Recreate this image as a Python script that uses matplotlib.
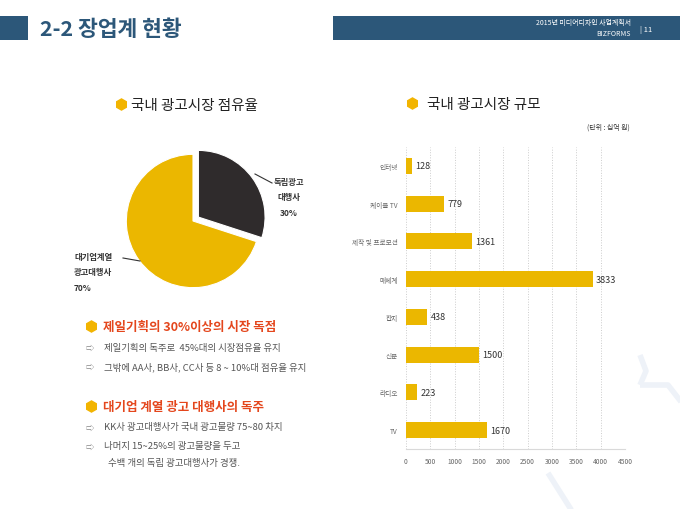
import matplotlib.pyplot as plt
from matplotlib.lines import Line2D
from matplotlib.patches import Rectangle

plt.rcParams['font.family'] = ['Noto Sans CJK KR', 'DejaVu Sans']

# pie data
share_labels = ['독립광고\n대행사\n30%', '대기업계열\n광고대행사\n70%']
share_values = [30, 70]

# bar data
categories = ['인터넷', '케이블 TV', '제작 및 프로모션', '매체계', '잡지', '신문', '라디오', 'TV']
market_size = [128, 779, 1361, 3833, 438, 1500, 223, 1670]
x_ticks = [0, 500, 1000, 1500, 2000, 2500, 3000, 3500, 4000, 4500]

# text block
head1 = '제일기획의 30%이상의 시장 독점'
lines1 = ['제일기획의 독주로  45%대의 시장점유율 유지',
          '그밖에 AA사, BB사, CC사 등 8 ~ 10%대 점유율 유지']
head2 = '대기업 계열 광고 대행사의 독주'
lines2 = ['KK사 광고대행사가 국내 광고물량 75~80 차지',
          '나머지 15~25%의 광고물량을 두고']
tail2 = '수백 개의 독립 광고대행사가 경쟁.'

W, H = 680, 510
BLUE = '#2c5779'
YELLOW = '#ebb700'
DARK = '#2f2b2c'
RED = '#e4461c'
GRAY = '#555555'


def fx(x):
    return x / W


def fy(y):
    return 1 - y / H


fig = plt.figure(figsize=(6.8, 5.1), dpi=100)
fig.patch.set_facecolor('white')

# faint background strokes
for xs, ys in [([640, 646, 640], [356, 372, 386]),
               ([640, 668, 682], [386, 386, 404]),
               ([548, 572], [474, 512])]:
    fig.add_artist(Line2D([fx(v) for v in xs], [fy(v) for v in ys],
                          color='#eef2f8', lw=4, solid_capstyle='butt'))

# header
fig.add_artist(Rectangle((fx(0), fy(41)), fx(28), 24 / H, color=BLUE, lw=0))
fig.add_artist(Rectangle((fx(333), fy(41)), fx(347), 24 / H, color=BLUE, lw=0))
fig.text(fx(40), fy(29), '2-2 장업계 현황', fontsize=15.5, fontweight='bold',
         color=BLUE, va='center')
fig.text(fx(631), fy(23), '2015년 미디어디자인 사업계획서', fontsize=5,
         color='white', ha='right', va='center')
fig.text(fx(631), fy(34), 'BIZFORMS', fontsize=5, color='white',
         ha='right', va='center')
fig.text(fx(640), fy(30), '| 11', fontsize=5.5, color='white', va='center')

# section titles
for bx, tx, ty, txt in [(121, 131, 106, '국내 광고시장 점유율'),
                        (412, 427, 105, '국내 광고시장 규모')]:
    fig.add_artist(Line2D([fx(bx)], [fy(ty - 1)], marker='h', ms=8,
                          color='#f2b400', lw=0))
    fig.text(fx(tx), fy(ty), txt, fontsize=10.5, fontweight='medium',
             color='#222222', va='center')

# pie
ax_p = fig.add_axes([fx(113), fy(302), 160 / W, 160 / H])
ax_p.pie(share_values, colors=[DARK, YELLOW], startangle=90,
         counterclock=False, explode=[0.1, 0],
         wedgeprops=dict(edgecolor='white', linewidth=0.8))
ax_p.set_xlim(-1.2, 1.2)
ax_p.set_ylim(-1.2, 1.2)
ax_p.set_aspect('equal')
ax_p.axis('off')

fig.add_artist(Line2D([fx(255), fx(272)], [fy(175), fy(184)], color='#333333', lw=0.8))
fig.add_artist(Line2D([fx(123), fx(140)], [fy(259), fy(262)], color='#333333', lw=0.8))
fig.text(fx(289), fy(198), share_labels[0], fontsize=6, fontweight='bold',
         color='#333333', ha='center', va='center', linespacing=1.9)
fig.text(fx(74), fy(273), share_labels[1], fontsize=6, fontweight='bold',
         color='#333333', ha='left', va='center', linespacing=1.9)

# bar chart
fig.text(fx(630), fy(128), '(단위 : 십억 원)', fontsize=5, color='#333333',
         ha='right', va='center')
ax_b = fig.add_axes([fx(406), fy(450), 219 / W, 302 / H])
ypos = list(range(len(categories)))
ax_b.barh(ypos, market_size, height=0.42, color=YELLOW)
for yv, v in zip(ypos, market_size):
    ax_b.text(v + 70, yv, str(v), fontsize=6.5, color='#333333', va='center')
ax_b.set_ylim(7.5, -0.5)
ax_b.set_xlim(0, 4500)
ax_b.set_yticks(ypos)
ax_b.set_yticklabels(categories, fontsize=4.8, color='#666666')
ax_b.set_xticks(x_ticks)
ax_b.set_xticklabels([str(t) for t in x_ticks], fontsize=4.8, color='#666666')
ax_b.tick_params(length=0, pad=6)
ax_b.grid(axis='x', linestyle=':', color='#cccccc', lw=0.7)
ax_b.set_axisbelow(True)
for s in ['top', 'right', 'left']:
    ax_b.spines[s].set_visible(False)
ax_b.spines['bottom'].set_color('#d9d9d9')

# text block
for by, head, lines in [(327, head1, lines1), (407, head2, lines2)]:
    fig.add_artist(Line2D([fx(91)], [fy(by)], marker='h', ms=8,
                          color='#f2b400', lw=0))
    fig.text(fx(103), fy(by), head, fontsize=9, fontweight='bold',
             color=RED, va='center')
    for i, ln in enumerate(lines):
        yy = by + 21 + i * 19
        fig.text(fx(86), fy(yy), '⇨', fontsize=6, color='#888888', va='center')
        fig.text(fx(104), fy(yy), ln, fontsize=6.8, color=GRAY, va='center')
fig.text(fx(108), fy(464), tail2, fontsize=6.8, color=GRAY, va='center')

fig.savefig('out.png', dpi=100)
